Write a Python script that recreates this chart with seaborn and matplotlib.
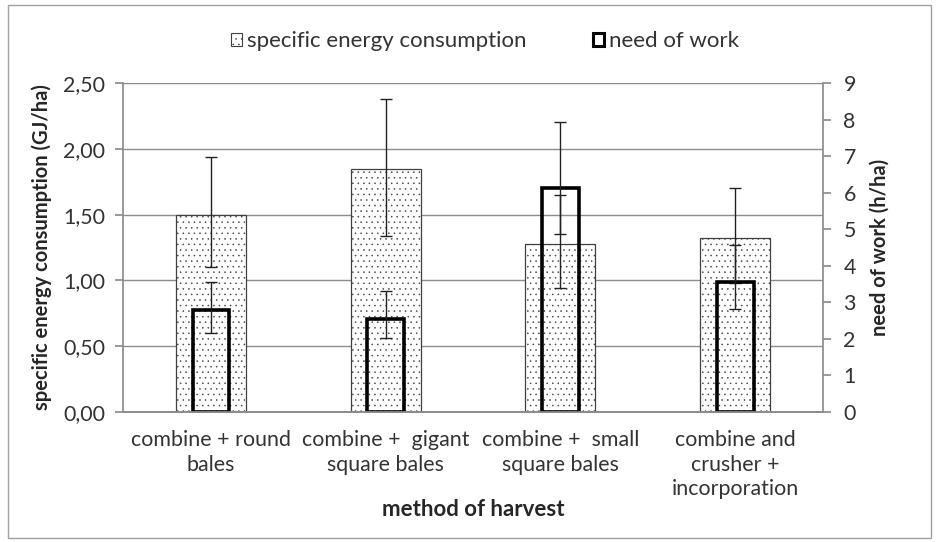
import numpy as np
import pandas as pd
import matplotlib
matplotlib.use("Agg")
import matplotlib.pyplot as plt
import seaborn as sns
from matplotlib.patches import Patch, Rectangle
from matplotlib.ticker import FuncFormatter, MultipleLocator

# Veriler
categories = ["combine + round\nbales", "combine +  gigant\nsquare bales",
              "combine +  small\nsquare bales", "combine and\ncrusher +\nincorporation"]
energy = [1.50, 1.85, 1.28, 1.32]          # GJ/ha
energy_err_lo = [0.40, 0.51, 0.34, 0.34]
energy_err_hi = [0.44, 0.53, 0.37, 0.38]
work = [2.79, 2.55, 6.14, 3.56]            # h/ha
work_err_lo = [0.63, 0.52, 1.27, 0.75]
work_err_hi = [0.77, 0.75, 1.79, 1.01]

sns.set_theme(style="white")
plt.rcParams['font.family'] = ['Lato', 'DejaVu Sans']
plt.rcParams['hatch.linewidth'] = 0.35
GRAY = "#8c8c8c"
TXT = "#333333"
FS = 15.4

df = pd.DataFrame({"method": categories, "energy": energy, "work": work})

fig = plt.figure(figsize=(9.39, 5.42), dpi=100)
ax = fig.add_axes([0.1315, 0.2404, 0.876 - 0.1315, 0.8463 - 0.2404])
ax2 = ax.twinx()

# Sol eksen: ozgul enerji tuketimi (noktali cubuklar)
sns.barplot(data=df, x="method", y="energy", ax=ax, width=0.4,
            color="white", edgecolor="#404040", linewidth=0.9, errorbar=None)
for p in ax.patches:
    p.set_hatch("...")
    p.set_zorder(2)
ax.errorbar(np.arange(len(energy)), energy, yerr=[energy_err_lo, energy_err_hi],
            fmt="none", ecolor="#222222", elinewidth=1.0, capsize=4, capthick=1.0, zorder=5)

# Sag eksen: is ihtiyaci (kalin cerceveli cubuklar)
sns.barplot(data=df, x="method", y="work", ax=ax2, width=0.21,
            fill=False, edgecolor="black", linewidth=2.6, errorbar=None)
ax2.errorbar(np.arange(len(work)), work, yerr=[work_err_lo, work_err_hi],
             fmt="none", ecolor="#222222", elinewidth=1.0, capsize=4, capthick=1.0, zorder=5)

ax.set_xlim(-0.5, 3.5)
ax.set_ylim(0, 2.5)
ax2.set_ylim(0, 9)
ax.yaxis.set_major_locator(MultipleLocator(0.5))
ax.yaxis.set_major_formatter(FuncFormatter(lambda v, _: f"{v:.2f}".replace(".", ",")))
ax2.yaxis.set_major_locator(MultipleLocator(1))

ax.set_axisbelow(True)
ax.grid(axis="y", color=GRAY, linewidth=1.0)
ax.grid(axis="x", visible=False)

for a in (ax, ax2):
    a.spines["top"].set_visible(False)
    a.spines["left"].set_visible(False)
    a.spines["right"].set_visible(False)
    a.spines["bottom"].set_color(GRAY)
    a.patch.set_alpha(0)
ax.spines["left"].set_visible(True)
ax.spines["left"].set_color(GRAY)
ax2.spines["right"].set_visible(True)
ax2.spines["right"].set_color(GRAY)

ax.tick_params(axis="y", length=6, color=GRAY, labelsize=FS, labelcolor=TXT,
               direction="out", pad=7, left=True)
ax.tick_params(axis="x", length=0, labelsize=FS, labelcolor=TXT, pad=13)
ax2.tick_params(axis="y", length=6, color=GRAY, labelsize=FS, labelcolor=TXT,
                direction="out", pad=9)
for t in ax.get_xticklabels():
    t.set_linespacing(1.3)

ax.set_xlabel("method of harvest", fontsize=16, fontweight="bold", labelpad=0)
ax.set_ylabel("specific energy consumption (GJ/ha)", fontsize=14.5, fontweight="bold", labelpad=8)
ax2.set_ylabel("need of work (h/ha)", fontsize=14.5, fontweight="bold", labelpad=10)
ax2.set_xlabel("")

# Lejant
handles = [Patch(facecolor="white", edgecolor="#404040", hatch="...", linewidth=0.8,
                 label="specific energy consumption"),
           Patch(facecolor="white", edgecolor="black", linewidth=2.2, label="need of work")]
fig.legend(handles=handles, loc="center", bbox_to_anchor=(0.5165, 0.924), ncol=2,
           frameon=False, fontsize=16, handlelength=0.5, handleheight=0.5,
           handletextpad=0.2, columnspacing=3.0, labelcolor=TXT)

# Cerceve
fig.patches.append(Rectangle((0.008, 0.008), 0.984, 0.982, transform=fig.transFigure,
                             fill=False, edgecolor="#a0a0a0", linewidth=1.0))

fig.savefig("out.png", dpi=100)
